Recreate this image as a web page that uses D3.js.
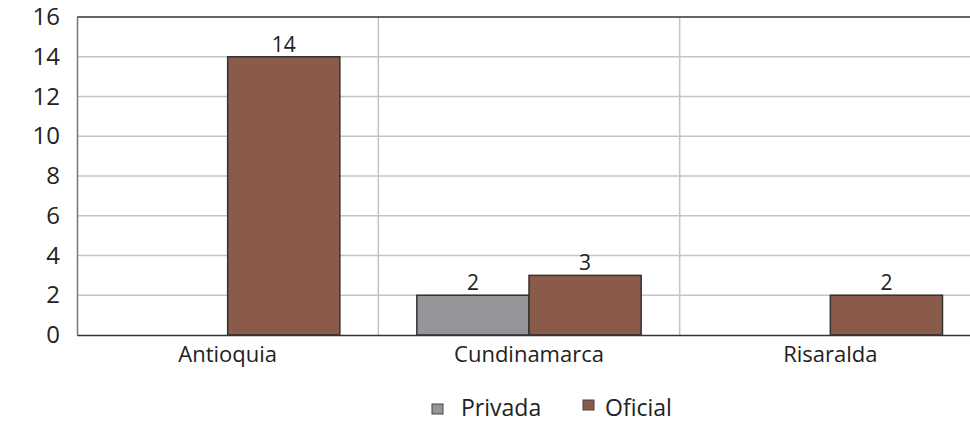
<!DOCTYPE html>
<html>
<head>
<meta charset="utf-8">
<script src="https://cdn.jsdelivr.net/npm/d3@7"></script>
<style>
  body { margin: 0; background: #fff; }
  text { font-family: "Open Sans", "Liberation Sans", sans-serif; fill: #222; }
</style>
</head>
<body>
<div id="chart"></div>
<script>
// data
const CATEGORIES = ["Antioquia", "Cundinamarca", "Risaralda"];
const SERIES = ["Privada", "Oficial"];
const PRIVADA = [0, 2, 0];
const OFICIAL = [14, 3, 2];
const Y_TICKS = [0, 2, 4, 6, 8, 10, 12, 14, 16];
const COLORS = ["#939598", "#8a5b4b"];

const width = 970, height = 422;
const margin = { top: 17, left: 77, bottom: 87, right: -11 };
const innerW = width - margin.left - margin.right;
const innerH = height - margin.top - margin.bottom;

const svg = d3.select("#chart")
    .append("svg")
    .attr("width", width)
    .attr("height", height);

const g = svg.append("g")
    .attr("transform", "translate(" + margin.left + "," + margin.top + ")");

const x0 = d3.scaleBand().domain(CATEGORIES).range([0, innerW]).paddingInner(0).paddingOuter(0);
const x1 = d3.scaleBand().domain(SERIES).range([38.5, x0.bandwidth() - 38.5]);
const y = d3.scaleLinear().domain([0, 16]).range([innerH, 0]);

// horizontal gridlines
g.selectAll(".grid")
    .data(Y_TICKS.filter(function(d) { return d > 0 && d < 16; }))
    .enter()
    .append("line")
    .attr("x1", 0).attr("x2", innerW)
    .attr("y1", function(d) { return y(d); })
    .attr("y2", function(d) { return y(d); })
    .attr("stroke", "#c4c4c4")
    .attr("stroke-width", 1.5);

// vertical category separators
g.selectAll(".sep")
    .data(CATEGORIES.slice(1))
    .enter()
    .append("line")
    .attr("x1", function(d) { return x0(d); })
    .attr("x2", function(d) { return x0(d); })
    .attr("y1", 0).attr("y2", innerH)
    .attr("stroke", "#c4c4c4")
    .attr("stroke-width", 1.5);

// top border
g.append("line")
    .attr("x1", 0).attr("x2", innerW)
    .attr("y1", 0).attr("y2", 0)
    .attr("stroke", "#333").attr("stroke-width", 1.5);

const rows = CATEGORIES.map(function(c, i) {
    return { cat: c, vals: [PRIVADA[i], OFICIAL[i]] };
});

const groups = g.selectAll(".grp")
    .data(rows)
    .enter()
    .append("g")
    .attr("transform", function(d) { return "translate(" + x0(d.cat) + ",0)"; });

const bars = groups.selectAll("g.bar")
    .data(function(d) {
        return d.vals.map(function(v, i) { return { s: SERIES[i], v: v, i: i }; })
            .filter(function(b) { return b.v > 0; });
    })
    .enter()
    .append("g");

bars.append("rect")
    .attr("x", function(d) { return x1(d.s); })
    .attr("y", function(d) { return y(d.v); })
    .attr("width", x1.bandwidth())
    .attr("height", function(d) { return y(0) - y(d.v); })
    .attr("fill", function(d) { return COLORS[d.i]; })
    .attr("stroke", "#333")
    .attr("stroke-width", 1.5);

bars.append("text")
    .attr("x", function(d) { return x1(d.s) + x1.bandwidth() / 2; })
    .attr("y", function(d) { return y(d.v) - 5; })
    .attr("text-anchor", "middle")
    .style("font-size", "21px")
    .text(function(d) { return d.v; });

// y axis
const yAxis = g.append("g")
    .call(d3.axisLeft(y).tickValues(Y_TICKS).tickSize(0).tickPadding(17));
yAxis.select(".domain").attr("stroke", "#777").attr("stroke-width", 1.5);
yAxis.selectAll("text")
    .style("font-size", "24px")
    .style("font-family", "'Open Sans', sans-serif")
    .attr("fill", "#222");

// x axis
const xAxis = g.append("g")
    .attr("transform", "translate(0," + innerH + ")")
    .call(d3.axisBottom(x0).tickSize(0).tickPadding(11));
xAxis.select(".domain").attr("stroke", "#333").attr("stroke-width", 1.5);
xAxis.selectAll("text")
    .style("font-size", "22px")
    .style("font-family", "'Open Sans', sans-serif")
    .attr("fill", "#222");

// legend
const legendX = [432, 583];
const legend = svg.selectAll(".leg")
    .data(SERIES)
    .enter()
    .append("g")
    .attr("transform", function(d, i) { return "translate(" + legendX[i] + ",402)"; });

legend.append("rect")
    .attr("x", 0)
    .attr("y", function(d, i) { return i === 0 ? 2 : -2; })
    .attr("width", 11).attr("height", 10)
    .attr("fill", function(d, i) { return COLORS[i]; })
    .attr("stroke", "#444");

legend.append("text")
    .attr("x", function(d, i) { return i === 0 ? 29 : 22; })
    .attr("y", 14)
    .style("font-size", "23px")
    .text(function(d) { return d; });
</script>
</body>
</html>
